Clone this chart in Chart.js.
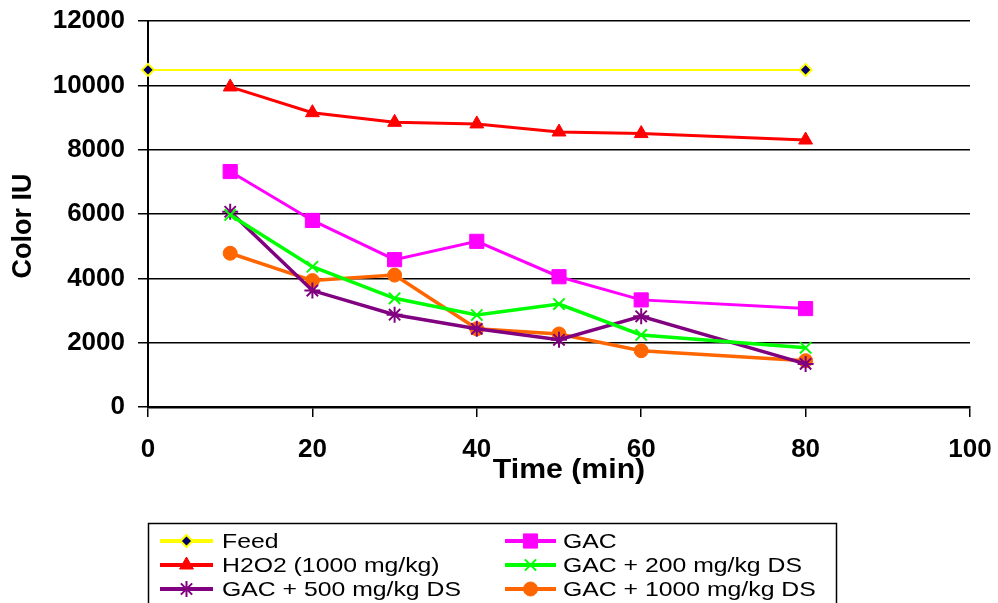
<!DOCTYPE html>
<html>
<head>
<meta charset="utf-8">
<script src="https://cdn.jsdelivr.net/npm/chart.js@4/dist/chart.umd.min.js"></script>
<style>
  html, body { margin: 0; padding: 0; background: #fff; }
  #wrap { width: 998px; height: 603px; position: relative; }
</style>
</head>
<body>
<div id="wrap"><canvas id="chart" width="998" height="603"></canvas></div>
<script>
// valeurs
const timeMin = [10, 20, 30, 40, 50, 60, 80];
const feedTime = [0, 80];
const feedColor = [10480, 10480];
const h2o2Color = [9950, 9150, 8850, 8800, 8550, 8500, 8300];
const gacColor = [7320, 5800, 4580, 5150, 4050, 3330, 3060];
const gac200Color = [5970, 4360, 3380, 2860, 3200, 2240, 1840];
const gac500Color = [6070, 3620, 2870, 2430, 2090, 2820, 1340];
const gac1000Color = [4780, 3930, 4100, 2430, 2270, 1750, 1440];

const xTicks = [0, 20, 40, 60, 80, 100];
const yTicks = [0, 2000, 4000, 6000, 8000, 10000, 12000];

const seriesLabels = ["Feed", "GAC", "H2O2 (1000 mg/kg)", "GAC + 200 mg/kg DS",
                      "GAC + 500 mg/kg DS", "GAC + 1000 mg/kg DS"];

function pts(xs, ys) {
    return xs.map((x, i) => ({ x: x, y: ys[i] }));
}

const datasets = [
    { label: seriesLabels[0], data: pts(feedTime, feedColor), borderColor: "#ffff00", borderWidth: 2,
      pointStyle: "rectRot", pointRadius: 6, pointBackgroundColor: "#000066", pointBorderColor: "#ffff00", pointBorderWidth: 2 },
    { label: seriesLabels[1], data: pts(timeMin, gacColor), borderColor: "#ff00ff", borderWidth: 3,
      pointStyle: "rect", pointRadius: 10, pointBackgroundColor: "#ff00ff", pointBorderColor: "#ff00ff", pointBorderWidth: 1 },
    { label: seriesLabels[2], data: pts(timeMin, h2o2Color), borderColor: "#ff0000", borderWidth: 3,
      pointStyle: "triangle", pointRadius: 8, pointBackgroundColor: "#ff0000", pointBorderColor: "#ff0000", pointBorderWidth: 1 },
    { label: seriesLabels[3], data: pts(timeMin, gac200Color), borderColor: "#00ff00", borderWidth: 3.5,
      pointStyle: "crossRot", pointRadius: 8, pointBackgroundColor: "#00ff00", pointBorderColor: "#00ff00", pointBorderWidth: 2 },
    { label: seriesLabels[4], data: pts(timeMin, gac500Color), borderColor: "#800080", borderWidth: 3.5,
      pointStyle: "star", pointRadius: 8, pointBackgroundColor: "#800080", pointBorderColor: "#800080", pointBorderWidth: 2 },
    { label: seriesLabels[5], data: pts(timeMin, gac1000Color), borderColor: "#ff6600", borderWidth: 3.5,
      pointStyle: "circle", pointRadius: 7, pointBackgroundColor: "#ff6600", pointBorderColor: "#ff6600", pointBorderWidth: 1 }
];

const legendOrder = [0, 1, 2, 3, 4, 5];

// texte un peu étiré en largeur comme sur l'original
function wideText(ctx, txt, x, y, sx) {
    ctx.save();
    ctx.translate(x, y);
    ctx.scale(sx, 1);
    ctx.fillText(txt, 0, 0);
    ctx.restore();
}

const extras = {
    id: "extras",
    afterDraw(chart) {
        const ctx = chart.ctx;
        ctx.save();
        ctx.fillStyle = "#000";
        ctx.textAlign = "center";
        ctx.textBaseline = "middle";
        ctx.font = "bold 28px 'Liberation Sans', Arial, sans-serif";
        wideText(ctx, "Time (min)", 569, 470, 1.08);
        ctx.translate(24, 226);
        ctx.rotate(-Math.PI / 2);
        ctx.font = "bold 27px 'Liberation Sans', Arial, sans-serif";
        ctx.fillText("Color IU", 0, 0);
        ctx.restore();

        // boîte de légende
        ctx.save();
        ctx.strokeStyle = "#000";
        ctx.lineWidth = 1.5;
        ctx.strokeRect(148.5, 523.5, 688, 100);
        ctx.font = "21px 'Liberation Sans', Arial, sans-serif";
        ctx.textBaseline = "middle";
        ctx.textAlign = "left";
        legendOrder.forEach((di, k) => {
            const ds = chart.data.datasets[di];
            const col = k % 2, row = Math.floor(k / 2);
            const x0 = col === 0 ? 160 : 505;
            const x1 = col === 0 ? 213 : 556;
            const y = 541 + row * 24;
            ctx.strokeStyle = ds.borderColor;
            ctx.lineWidth = 4;
            ctx.beginPath();
            ctx.moveTo(x0, y);
            ctx.lineTo(x1, y);
            ctx.stroke();
            ctx.fillStyle = ds.pointBackgroundColor;
            ctx.strokeStyle = ds.pointBorderColor;
            ctx.lineWidth = ds.pointBorderWidth;
            Chart.helpers.drawPoint(ctx, {
                pointStyle: ds.pointStyle, radius: ds.pointRadius, borderWidth: ds.pointBorderWidth, rotation: 0
            }, (x0 + x1) / 2, y);
            ctx.fillStyle = "#000";
            wideText(ctx, ds.label, col === 0 ? 222 : 563, y + 1, 1.18);
        });
        ctx.restore();
    }
};

new Chart(document.getElementById("chart"), {
    type: "line",
    data: { datasets: datasets },
    options: {
        responsive: false,
        animation: false,
        devicePixelRatio: 1,
        clip: false,
        layout: { padding: { left: 0, right: 28, top: 21, bottom: 0 } },
        elements: { line: { tension: 0, fill: false } },
        plugins: { legend: { display: false }, tooltip: { enabled: false } },
        scales: {
            x: {
                type: "linear",
                min: 0, max: 100,
                afterBuildTicks: s => { s.ticks = xTicks.map(v => ({ value: v })); },
                afterFit: s => { s.height = 196; s.paddingLeft = 0; s.paddingRight = 0; },
                grid: { drawOnChartArea: false, color: "#000", lineWidth: 1.5, tickLength: 10 },
                border: { color: "#000", width: 2.5 },
                ticks: { color: "#000", padding: 17, maxRotation: 0, callback: v => String(v),
                         font: { family: "'Liberation Sans', Arial, sans-serif", size: 26, weight: "bold" } }
            },
            y: {
                min: 0, max: 12000,
                afterBuildTicks: s => { s.ticks = yTicks.map(v => ({ value: v })); },
                afterFit: s => { s.width = 148; s.paddingTop = 0; s.paddingBottom = 0; },
                grid: { color: "#000", lineWidth: 1.5, tickLength: 10 },
                border: { color: "#000", width: 2 },
                ticks: { color: "#000", padding: 13, callback: v => String(v),
                         font: { family: "'Liberation Sans', Arial, sans-serif", size: 26, weight: "bold" } }
            }
        }
    },
    plugins: [extras]
});
</script>
</body>
</html>
